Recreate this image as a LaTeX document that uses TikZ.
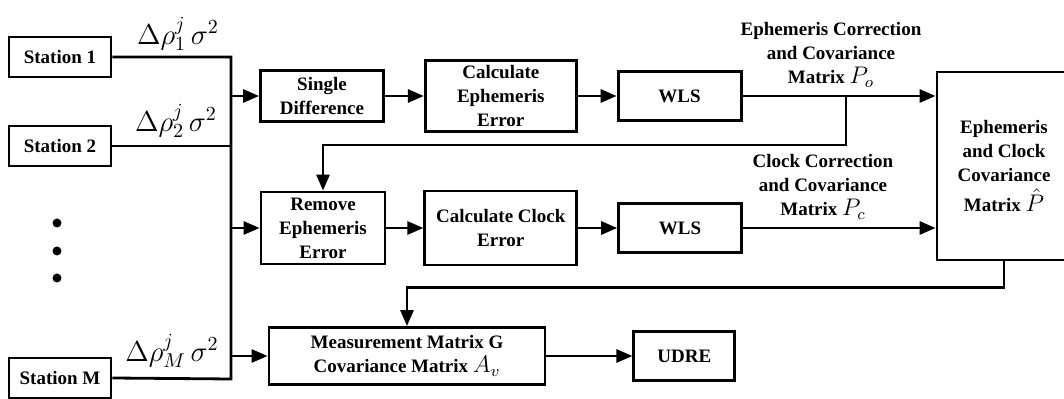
\documentclass[tikz,border=0pt]{standalone}
\usepackage{fontspec}
\setmainfont{Liberation Serif}
\usetikzlibrary{positioning,arrows.meta}

\newcommand{\mtxsym}[1]{{\fontsize{12}{12}\selectfont$#1$}}

\begin{document}
\begin{tikzpicture}[x=0.5pt,y=-0.5pt,
  font=\fontsize{9.5}{12}\selectfont\bfseries,
  blk/.style={draw,line width=1.4pt,align=center,inner sep=2pt},
  stn/.style={blk,minimum width=51pt,minimum height=20pt},
  lbl/.style={align=center,inner sep=0pt},
  sig/.style={inner sep=0pt,font=\fontsize{14.4}{16}\selectfont},
  ln/.style={line width=1.4pt},
  arr/.style={ln,-{Triangle[length=8pt,width=6.5pt]}},
  dot/.style={circle,fill,inner sep=0pt,minimum size=4.5pt}]
\useasboundingbox (0,0) rectangle (1064,399);
% stations
\node[stn] (s1) at (60,57) {Station 1};
\node[stn] (s2) at (60,146) {Station 2};
\node[stn] (sm) at (60,378) {Station M};
\foreach \i/\y in {1/223,2/251,3/278}
  \node[dot] (d\i) at (57,\y) {};
\node[sig] (l1) at (178,34) {$\Delta\rho_1^j\,\sigma^2$};
\node[sig] (l2) at (176,121) {$\Delta\rho_2^j\,\sigma^2$};
\node[sig] (lm) at (172,351) {$\Delta\rho_M^j\,\sigma^2$};
% ephemeris row
\node[blk,minimum width=61.5pt,minimum height=25.5pt] (sd) at (322,96) {Single\\Difference};
\node[blk,minimum width=75.5pt,minimum height=35.5pt,right=19.5pt of sd] (cee) {Calculate\\Ephemeris\\Error};
\node[blk,minimum width=61.5pt,minimum height=24.5pt,right=19.5pt of cee] (wls1) {WLS};
% clock row
\node[blk,minimum width=62pt,minimum height=36pt] (ree) at (323,228) {Remove\\Ephemeris\\Error};
\node[blk,minimum width=76pt,minimum height=37pt,right=18.5pt of ree] (cce) {Calculate Clock\\Error};
\node[blk,minimum width=61.5pt,minimum height=24.5pt,right=19.5pt of cce] (wls2) {WLS};
\node[blk,minimum width=67pt,minimum height=94pt] (big) at (1004,166) {Ephemeris\\and Clock\\Covariance\\[3pt]Matrix \mtxsym{\hat{P}}};
% output row
\node[blk,minimum width=138pt,minimum height=28.5pt] (meas) at (407,356) {Measurement Matrix G\\Covariance Matrix \mtxsym{A_v}};
\node[blk,minimum width=50.5pt,minimum height=24.5pt,right=43pt of meas] (udre) {UDRE};
\node[lbl] (lo) at (831,55) {Ephemeris Correction\\and Covariance\\Matrix \mtxsym{P_o}};
\node[lbl] (lc) at (823,187) {Clock Correction\\and Covariance\\Matrix \mtxsym{P_c}};
% bus
\coordinate (b1) at (231,57);
\coordinate (bm) at (231,379);
\draw[ln] (s1.east) -- (b1) -- (bm) -- (sm.east);
\draw[ln] (s2.east) -- (s2.east -| b1);
\draw[arr] (b1 |- sd.west) -- (sd.west);
\draw[arr] (b1 |- ree.west) -- (ree.west);
\draw[arr] (b1 |- meas.west) -- (meas.west);
\draw[arr] (sd) -- (cee);
\draw[arr] (cee) -- (wls1);
\draw[arr] (ree) -- (cce);
\draw[arr] (cce) -- (wls2);
\draw[arr] (meas) -- (udre);
\draw[arr] (wls1.east) -- (wls1.east -| big.west);
\draw[arr] (wls2.east) -- (wls2.east -| big.west);
% feedback
\coordinate (f1) at (846,96);
\draw[arr] (f1) -- ++(0,49) -| (ree.north);
\draw[arr] (big.south) -- ++(0,26) -| (meas.north);
\end{tikzpicture}
\end{document}
